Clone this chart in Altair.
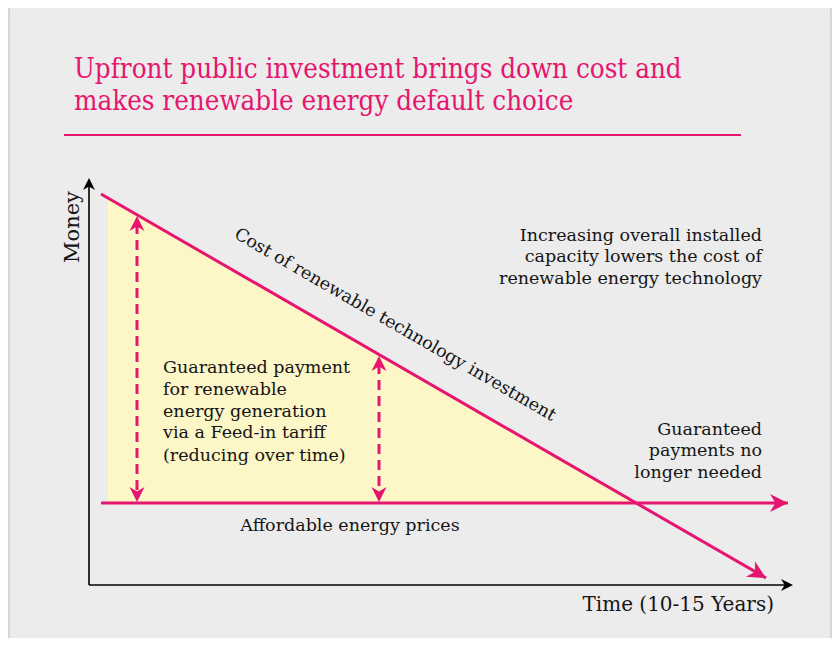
import altair as alt
import pandas as pd

# ---- data (diagram units: origin at the axes corner, x = time, y = money) ----
TITLE_LINES = ["Upfront public investment brings down cost and",
               "makes renewable energy default choice"]
TITLE_Y = [507, 475]
TITLE_X = -15

CARD = dict(x=-80, x2=742, y=578, y2=-54)
TITLE_RULE = dict(x=-25, x2=652, y=450)

AXIS_LEN_X = 701
AXIS_LEN_Y = 400
AXIS_TIP_X = 704
AXIS_TIP_Y = 407

COST_X = [12, 677]
COST_Y = [391, 7]
PRICE_X = [12, 699]
PRICE_Y = [82, 82]

FILL_X = [19, 547]
FILL_Y = [387, 82]
FILL_BASE = 82

DASH_X = [48, 290]
DASH_TOP = [369, 229]
DASH_BOTTOM = [83, 83]

INCREASING = ["Increasing overall installed", "capacity lowers the cost of",
              "renewable energy technology"]
INCREASING_Y = [349, 328, 306]
RIGHT_X = 673

GUARANTEED = ["Guaranteed payment", "for renewable", "energy generation",
              "via a Feed-in tariff", "(reducing over time)"]
GUARANTEED_Y = [217, 195, 173, 152, 129]
GUARANTEED_X = 74

NO_LONGER = ["Guaranteed", "payments no", "longer needed"]
NO_LONGER_Y = [155, 134, 112]

COST_LABEL = "Cost of renewable technology investment"
COST_LABEL_POS = (306, 260)
PRICE_LABEL = "Affordable energy prices"
PRICE_LABEL_POS = (261, 59)
X_TITLE = "Time (10-15 Years)"
X_TITLE_POS = (685, -20)
Y_TITLE = "Money"
Y_TITLE_POS = (-16, 358)

PINK = "#e6156f"
YELLOW = "#fdf6c6"
CARD_FILL = "#ececec"
SERIF = "DejaVu Serif"

XD = [-81, 743]
YD = [-53, 577]

ARROW = "M0,0 L-2,-1 L-1.4,0 L-2,1 Z"


def X(f="x"):
    return alt.X(f"{f}:Q", scale=alt.Scale(domain=XD, nice=False, zero=False), axis=None)


def Y(f="y"):
    return alt.Y(f"{f}:Q", scale=alt.Scale(domain=YD, nice=False, zero=False), axis=None)


def df(**kw):
    return pd.DataFrame(kw)


layers = []

# card
layers.append(alt.Chart(df(x=[CARD["x"]], x2=[CARD["x2"]], y=[CARD["y"]], y2=[CARD["y2"]]))
              .mark_rect(fill=CARD_FILL, stroke="#cbcbcb", strokeWidth=1.5, cornerRadius=3)
              .encode(x=X(), x2="x2", y=Y(), y2="y2"))

# title rule
layers.append(alt.Chart(df(x=[TITLE_RULE["x"]], x2=[TITLE_RULE["x2"]], y=[TITLE_RULE["y"]]))
              .mark_rule(color=PINK, strokeWidth=2)
              .encode(x=X(), x2="x2", y=Y()))

# title text
layers.append(alt.Chart(df(t=TITLE_LINES, x=[TITLE_X] * 2, y=TITLE_Y))
              .mark_text(align="left", baseline="alphabetic", font="DejaVu Serif Condensed",
                         fontSize=27.5, color=PINK)
              .encode(x=X(), y=Y(), text="t:N"))

# yellow triangle
layers.append(alt.Chart(df(x=FILL_X, y=FILL_Y, y2=[FILL_BASE] * 2))
              .mark_area(color=YELLOW, opacity=1)
              .encode(x=X(), y=Y(), y2="y2"))

# axes
layers.append(alt.Chart(df(x=[0, 0], x2=[AXIS_LEN_X, 0], y=[0, 0], y2=[0, AXIS_LEN_Y]))
              .mark_rule(color="black", strokeWidth=1.6)
              .encode(x=X(), x2="x2", y=Y(), y2="y2"))
layers.append(alt.Chart(df(x=[AXIS_TIP_X, 0], y=[0, AXIS_TIP_Y], a=[0, 270]))
              .mark_point(shape=ARROW, filled=True, color="black", size=144, opacity=1)
              .encode(x=X(), y=Y(), angle=alt.Angle("a:Q", scale=None)))

# pink lines
layers.append(alt.Chart(df(x=[COST_X[0], PRICE_X[0]], x2=[COST_X[1], PRICE_X[1]],
                           y=[COST_Y[0], PRICE_Y[0]], y2=[COST_Y[1], PRICE_Y[1]]))
              .mark_rule(color=PINK, strokeWidth=3)
              .encode(x=X(), x2="x2", y=Y(), y2="y2"))
layers.append(alt.Chart(df(x=[COST_X[1], PRICE_X[1]], y=[COST_Y[1], PRICE_Y[1]], a=[30, 0]))
              .mark_point(shape=ARROW, filled=True, color=PINK, size=324, opacity=1)
              .encode(x=X(), y=Y(), angle=alt.Angle("a:Q", scale=None)))

# dashed double arrows
layers.append(alt.Chart(df(x=DASH_X, y=[t - 8 for t in DASH_TOP], y2=[b + 8 for b in DASH_BOTTOM]))
              .mark_rule(color=PINK, strokeWidth=3, strokeDash=[10, 6])
              .encode(x=X(), y=Y(), y2="y2"))
layers.append(alt.Chart(df(x=DASH_X + DASH_X, y=DASH_TOP + DASH_BOTTOM, a=[270, 270, 90, 90]))
              .mark_point(shape=ARROW, filled=True, color=PINK, size=225, opacity=1)
              .encode(x=X(), y=Y(), angle=alt.Angle("a:Q", scale=None)))


def text_layer(lines, xs, ys, align="left", size=17.5, angle=0, color="#151515", font=SERIF):
    return (alt.Chart(df(t=lines, x=xs, y=ys))
            .mark_text(align=align, baseline="middle", font=font, fontSize=size,
                       angle=angle, color=color)
            .encode(x=X(), y=Y(), text="t:N"))


layers.append(text_layer(INCREASING, [RIGHT_X] * 3, INCREASING_Y, align="right"))
layers.append(text_layer(GUARANTEED, [GUARANTEED_X] * 5, GUARANTEED_Y))
layers.append(text_layer(NO_LONGER, [RIGHT_X] * 3, NO_LONGER_Y, align="right"))
layers.append(text_layer([COST_LABEL], [COST_LABEL_POS[0]], [COST_LABEL_POS[1]],
                         align="center", angle=30))
layers.append(text_layer([PRICE_LABEL], [PRICE_LABEL_POS[0]], [PRICE_LABEL_POS[1]],
                         align="center"))
layers.append(text_layer([X_TITLE], [X_TITLE_POS[0]], [X_TITLE_POS[1]], align="right", size=20))
layers.append(text_layer([Y_TITLE], [Y_TITLE_POS[0]], [Y_TITLE_POS[1]], align="center",
                         size=21, angle=270))

chart = (alt.layer(*layers)
         .properties(width=824, height=630, padding=0,
                     autosize=alt.AutoSizeParams(type="none"), background="white")
         .configure_view(stroke=None))

chart.save("out.html", embed_options={"renderer": "svg", "actions": False})
